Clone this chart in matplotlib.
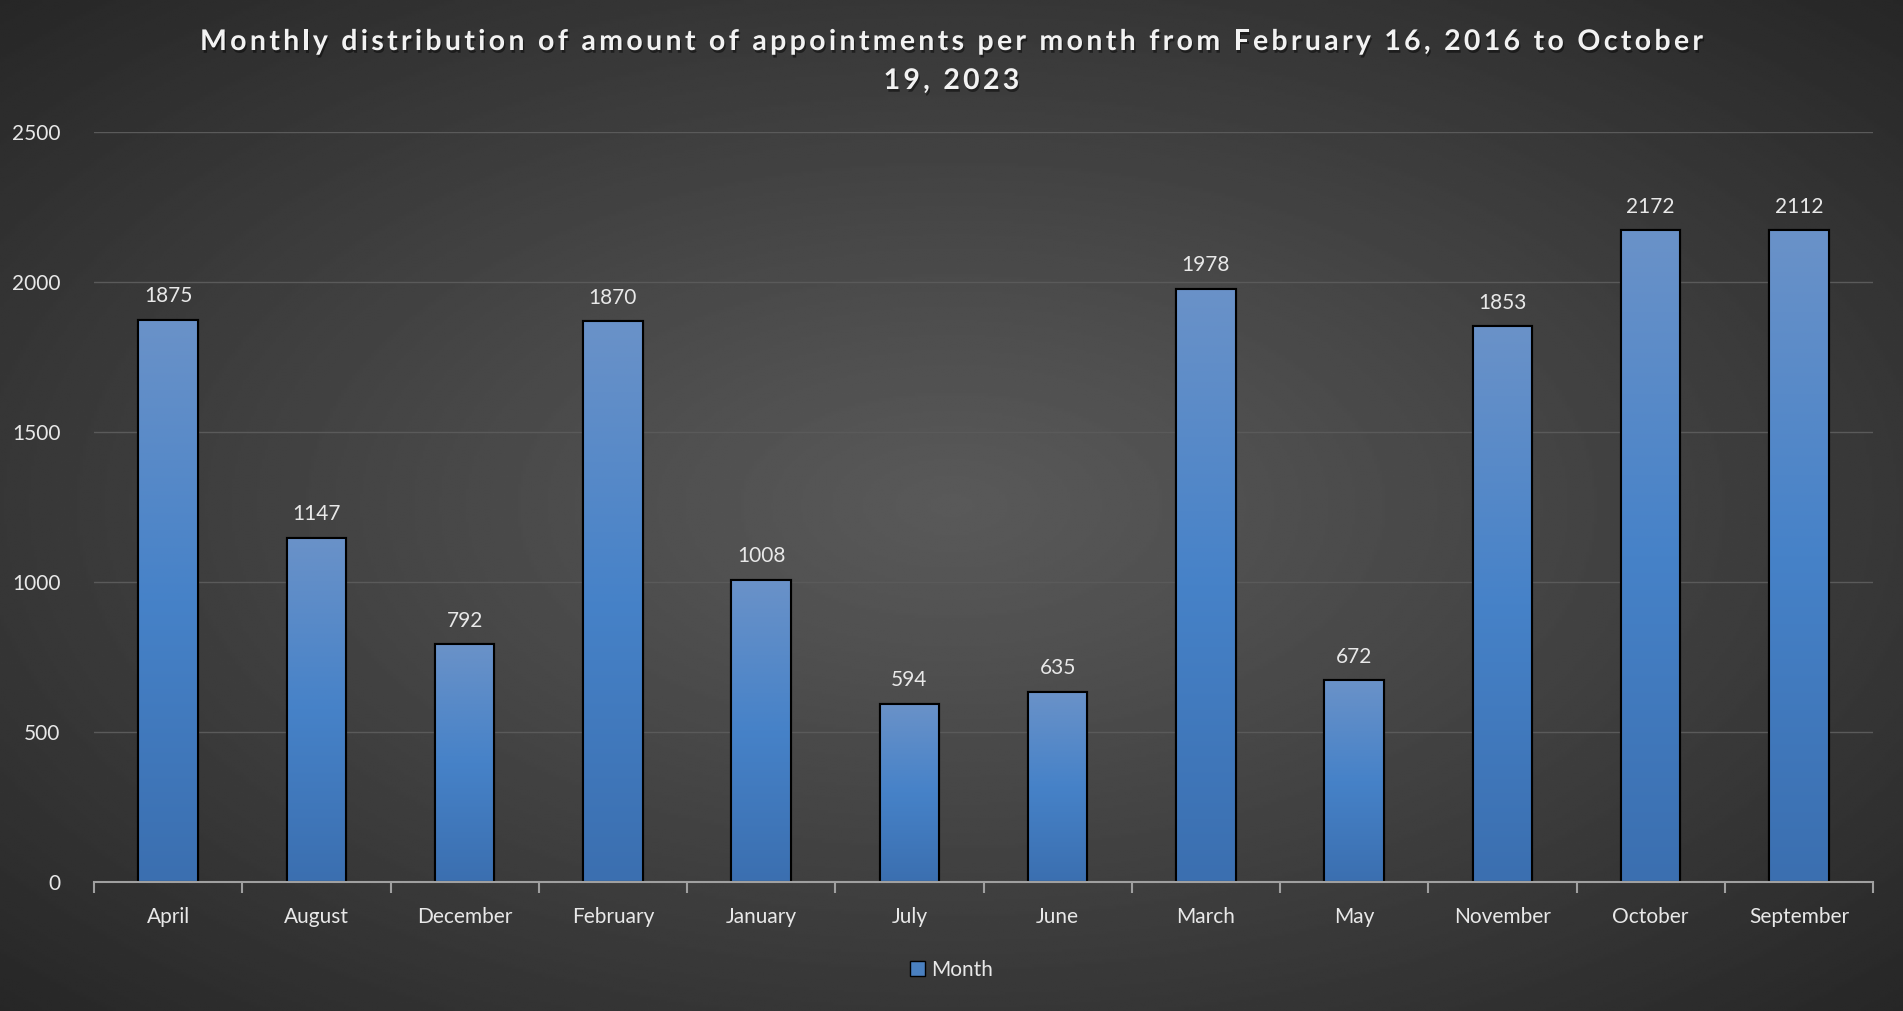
import matplotlib.pyplot as plt
import matplotlib.patheffects as pe
import numpy as np
from matplotlib.colors import LinearSegmentedColormap
from matplotlib.patches import Rectangle

months = ['April', 'August', 'December', 'February', 'January', 'July',
          'June', 'March', 'May', 'November', 'October', 'September']
# bar heights as drawn in the picture (the September bar reaches the October level)
heights = [1875, 1147, 792, 1870, 1008, 594, 635, 1978, 672, 1853, 2172, 2172]
# value labels as printed above the bars
value_labels = ['1875', '1147', '792', '1870', '1008', '594',
                '635', '1978', '672', '1853', '2172', '2112']
yticks = [0, 500, 1000, 1500, 2000, 2500]
title_lines = ['Monthly distribution of amount of appointments per month from February 16, 2016 to October',
               '19, 2023']

plt.rcParams['font.family'] = ['Lato', 'DejaVu Sans']

W, H = 1903, 1011
fig = plt.figure(figsize=(W / 100, H / 100), dpi=100)
renderer = fig.canvas.get_renderer()

# radial background
bg = fig.add_axes([0, 0, 1, 1])
yy, xx = np.mgrid[0:1:400j, 0:1:700j]
r = np.sqrt(((xx - 0.5) / 0.75) ** 2 + ((yy - 0.5) / 0.75) ** 2)
r = np.clip(r / 0.95, 0, 1)
shade = 0.35 - 0.20 * r ** 1.1
bg.imshow(shade, cmap='gray', vmin=0, vmax=1, extent=[0, 1, 0, 1],
          aspect='auto', interpolation='bilinear')
bg.set_axis_off()

ax = fig.add_axes([94 / W, 1 - 882 / H, (1873 - 94) / W, (882 - 132) / H])
ax.patch.set_alpha(0)

x = np.arange(len(months))
bars = ax.bar(x, heights, width=0.4, color='#4a80c0', edgecolor='black',
              linewidth=1.5, zorder=3)

bar_cmap = LinearSegmentedColormap.from_list(
    'barg', ['#3b6fb0', '#4682c8', '#6a92c8'])
grad = np.linspace(0, 1, 256).reshape(-1, 1)
for b in bars:
    bx, by = b.get_x(), b.get_y()
    bw, bh = b.get_width(), b.get_height()
    im = ax.imshow(grad, cmap=bar_cmap, origin='lower', aspect='auto',
                   extent=[bx, bx + bw, by, by + bh], zorder=3.5,
                   interpolation='bilinear')
    im.set_clip_path(b)
    ax.add_patch(Rectangle((bx, by), bw, bh, fill=False, edgecolor='black',
                           linewidth=1.5, zorder=4))

for xi, h, lab in zip(x, heights, value_labels):
    ax.text(xi, h + 45, lab, ha='center', va='bottom', color='#e8e8e8',
            fontsize=15, zorder=5)

ax.set_xlim(-0.5, len(months) - 0.5)
ax.set_ylim(0, 2500)
ax.set_yticks(yticks)
ax.set_xticks(x)
ax.set_xticklabels(months)
ax.tick_params(axis='x', length=0, pad=18, colors='#e8e8e8', labelsize=15)
ax.tick_params(axis='y', length=0, pad=24, colors='#e8e8e8', labelsize=15)
ax.set_xticks(np.arange(-0.5, len(months), 1), minor=True)
ax.tick_params(axis='x', which='minor', length=8, width=1.5, color='#a0a0a0',
               direction='out')
ax.grid(axis='y', color='#5a5a5a', linewidth=1, zorder=0)
for s in ['top', 'right', 'left']:
    ax.spines[s].set_visible(False)
ax.spines['bottom'].set_color('#a0a0a0')
ax.spines['bottom'].set_linewidth(1.5)
ax.spines['bottom'].set_zorder(6)


# title with letter spacing, drawn char by char
title_kw = dict(color='#f2f2f2', fontsize=20.5, fontweight='bold',
                path_effects=[pe.withSimplePatchShadow(offset=(1, -2), alpha=0.45,
                                                       shadow_rgbFace='black')])


def text_width(s):
    t = fig.text(0, 0, s, **title_kw)
    w = t.get_window_extent(renderer).width
    t.remove()
    return w


base_w = text_width(title_lines[0])
spacing = (1503 - base_w) / (len(title_lines[0]) - 1)

for line, ytop in zip(title_lines, [29, 68]):
    total = text_width(line) + spacing * (len(line) - 1)
    x0 = (W - total) / 2
    for i, ch in enumerate(line):
        if ch == ' ':
            continue
        off = text_width(line[:i] + 'x') - text_width('x') if i else 0
        fig.text((x0 + off + spacing * i) / W, 1 - ytop / H, ch,
                 ha='left', va='top', **title_kw)

fig.legend([Rectangle((0, 0), 1, 1, facecolor='#4a80c0', edgecolor='black')],
           ['Month'], loc='center', bbox_to_anchor=(0.5, 1 - 970 / H),
           frameon=False, fontsize=15, labelcolor='#e8e8e8',
           handlelength=0.7, handleheight=0.7, handletextpad=0.3)

fig.savefig('out.png', dpi=100)
